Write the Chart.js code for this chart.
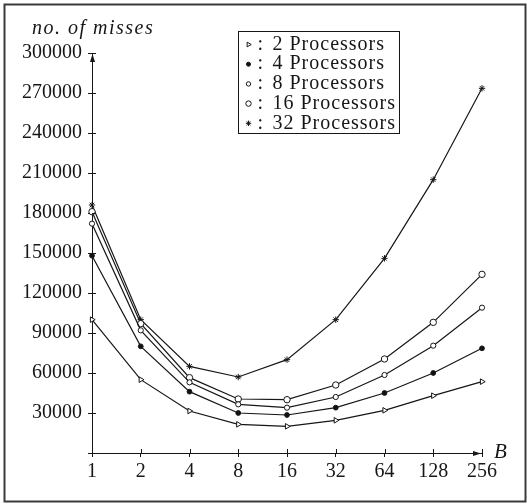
<!DOCTYPE html>
<html>
<head>
<meta charset="utf-8">
<script src="https://cdn.jsdelivr.net/npm/chart.js@4.4.1/dist/chart.umd.min.js"></script>
<style>
  html, body { margin: 0; padding: 0; background: #fff; }
  canvas { display: block; background: #fff; }
</style>
</head>
<body>
<canvas id="missChart" width="527" height="504"></canvas>
<script>
// block size B (log2 spaced categories)
const blockSizes = ['1', '2', '4', '8', '16', '32', '64', '128', '256'];
const processors = [2, 4, 8, 16, 32];

// no. of misses
const misses2  = [100000, 55000, 31500, 21500, 20000, 24500, 32000, 43000, 53500];
const misses4  = [148000, 80000, 46000, 30000, 28500, 34000, 45000, 60000, 78500];
const misses8  = [172000, 92000, 53000, 36500, 34000, 42000, 58500, 80500, 109000];
const misses16 = [181000, 97000, 56500, 40500, 40000, 51000, 70500, 98000, 134000];
const misses32 = [186000, 100000, 65000, 57000, 70000, 100000, 146000, 205000, 273500];

const yMax = 300000;
const yStep = 30000;

const seriesValues = [misses2, misses4, misses8, misses16, misses32];

// marker look per series
const markers = [
    { pointStyle: 'triangle', rotation: 90, radius: 3.2, fill: '#fff' },
    { pointStyle: 'circle', rotation: 0, radius: 2.4, fill: '#111' },
    { pointStyle: 'circle', rotation: 0, radius: 2.6, fill: '#fff' },
    { pointStyle: 'circle', rotation: 0, radius: 3.2, fill: '#fff' },
    { pointStyle: 'star', rotation: 0, radius: 3.2, fill: '#111' }
];

const ink = '#161616';
const serif = "'Liberation Serif', 'Times New Roman', serif";

Chart.defaults.font.family = serif;
Chart.defaults.font.size = 20;
Chart.defaults.color = ink;

// axis arrows, crossing ticks, frame, axis names and the boxed legend
const decor = {
    id: 'decor',
    afterDraw(chart) {
        const ctx = chart.ctx;
        const area = chart.chartArea;
        const xs = chart.scales.x;
        const ys = chart.scales.y;

        ctx.save();
        ctx.strokeStyle = ink;
        ctx.fillStyle = ink;
        ctx.lineWidth = 1;

        // inner half of the tick marks
        ctx.beginPath();
        xs.ticks.forEach(function(t, i) {
            let px = Math.round(xs.getPixelForTick(i)) + 0.5;
            ctx.moveTo(px, area.bottom - 4);
            ctx.lineTo(px, area.bottom);
        });
        ys.ticks.forEach(function(t, i) {
            let py = Math.round(ys.getPixelForTick(i)) + 0.5;
            ctx.moveTo(area.left, py);
            ctx.lineTo(area.left + 4, py);
        });
        ctx.stroke();

        // arrow heads
        let ax = Math.round(area.right) - 1;
        let ay = Math.round(area.bottom) + 0.5;
        ctx.beginPath();
        ctx.moveTo(ax, ay);
        ctx.lineTo(ax - 8, ay - 2.5);
        ctx.lineTo(ax - 8, ay + 2.5);
        ctx.closePath();
        ctx.fill();

        let tx = Math.round(area.left) + 0.5;
        let ty = Math.round(area.top) + 1;
        ctx.beginPath();
        ctx.moveTo(tx, ty);
        ctx.lineTo(tx - 2.5, ty + 8);
        ctx.lineTo(tx + 2.5, ty + 8);
        ctx.closePath();
        ctx.fill();

        // frame
        ctx.strokeStyle = '#3a3a3a';
        ctx.lineWidth = 2;
        ctx.strokeRect(4.5, 4.5, 521, 497);

        // axis names
        ctx.fillStyle = ink;
        ctx.textBaseline = 'middle';
        ctx.textAlign = 'left';
        ctx.font = 'italic 20px ' + serif;
        ctx.letterSpacing = '1.5px';
        ctx.fillText('no. of misses', 32, 29);
        ctx.letterSpacing = '0px';
        ctx.font = 'italic 21px ' + serif;
        ctx.fillText('B', area.right + 12, area.bottom - 1);

        // legend
        const lx = 238.5, ly = 31.5, lw = 161, lh = 102;
        ctx.strokeStyle = ink;
        ctx.lineWidth = 1;
        ctx.strokeRect(lx, ly, lw, lh);
        ctx.font = '20px ' + serif;
        chart.data.datasets.forEach(function(ds, i) {
            let rowY = ly + 13 + i * 19.7;
            let m = markers[i];
            ctx.fillStyle = m.fill;
            ctx.strokeStyle = ink;
            ctx.lineWidth = 1;
            Chart.helpers.drawPoint(ctx, {
                pointStyle: m.pointStyle,
                rotation: m.rotation,
                radius: m.radius * 0.85,
                borderWidth: 1
            }, lx + 10, rowY);
            ctx.fillStyle = ink;
            ctx.letterSpacing = '1px';
            ctx.fillText(':', lx + 19, rowY);
            ctx.fillText(ds.label, lx + 34, rowY);
            ctx.letterSpacing = '0px';
        });

        ctx.restore();
    }
};

const datasets = processors.map(function(p, i) {
    let m = markers[i];
    return {
        label: p + ' Processors',
        data: seriesValues[i],
        borderColor: ink,
        borderWidth: 1.2,
        tension: 0,
        clip: false,
        pointStyle: m.pointStyle,
        pointRotation: m.rotation,
        pointRadius: m.radius,
        pointBorderWidth: 1,
        pointBorderColor: ink,
        pointBackgroundColor: m.fill
    };
});

const ctx = document.getElementById('missChart').getContext('2d');
const chart = new Chart(ctx, {
    type: 'line',
    data: {
        labels: blockSizes,
        datasets: datasets
    },
    options: {
        responsive: false,
        animation: false,
        devicePixelRatio: 1,
        layout: {
            padding: { top: 53, right: 45, bottom: 0, left: 0 }
        },
        plugins: {
            legend: { display: false },
            tooltip: { enabled: false }
        },
        scales: {
            x: {
                type: 'category',
                offset: false,
                border: { display: true, color: ink, width: 1 },
                grid: { display: true, drawOnChartArea: false, drawTicks: true, tickLength: 4, color: ink },
                ticks: { padding: 3, maxRotation: 0, autoSkip: false, color: ink },
                afterFit: function(scale) { scale.height = 51; }
            },
            y: {
                min: 0,
                max: yMax,
                border: { display: true, color: ink, width: 1 },
                grid: { display: true, drawOnChartArea: false, drawTicks: true, tickLength: 4, color: ink },
                ticks: {
                    stepSize: yStep,
                    padding: 6,
                    color: ink,
                    callback: function(v) { return v === 0 ? '' : String(v); }
                },
                afterFit: function(scale) { scale.width = 92; }
            }
        }
    },
    plugins: [decor]
});
</script>
</body>
</html>
